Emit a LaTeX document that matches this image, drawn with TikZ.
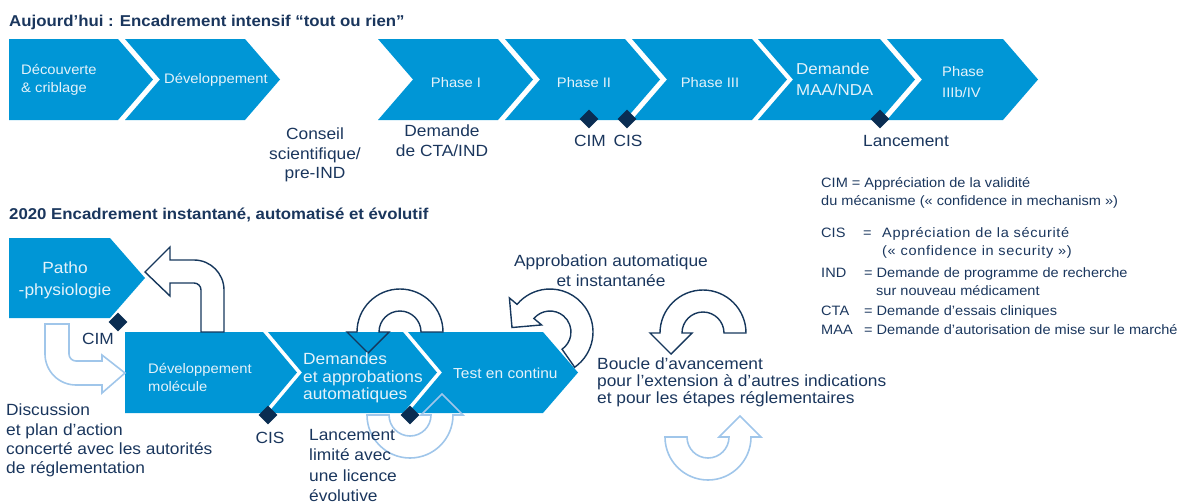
\documentclass[tikz,border=0pt]{standalone}
\usepackage{fontspec}
\setmainfont{Liberation Sans}[FakeStretch=1.07]
\usetikzlibrary{calc,shapes.geometric}
\definecolor{boxblue}{RGB}{0,150,214}
\definecolor{navytext}{RGB}{26,54,93}
\definecolor{dnavy}{RGB}{10,45,82}
\definecolor{anavy}{RGB}{22,55,92}
\definecolor{lblue}{RGB}{160,198,234}
\definecolor{btext}{RGB}{228,242,250}
\newcommand\fs[2]{\fontsize{#1}{#2}\selectfont}
\newcommand\bentarrow[5]{%
  \draw[#1] ($(#2,#3)+(#4:43)$) arc[start angle=#4, end angle=#5, radius=43]
    -- ($(#2,#3)+(#5:53)$) -- ($(#2,#3)+(#5:32)+(#5-90:21)$)
    -- ($(#2,#3)+(#5:11)$) -- ($(#2,#3)+(#5:21)$)
    arc[start angle=#5, end angle=#4, radius=21] -- cycle;}
\begin{document}
\begin{tikzpicture}[x=1pt,y=-1pt,
  boxfill/.style={fill=boxblue},
  boxtext/.style={text=btext, font=\fs{13.8}{18}, inner sep=0},
  lbl/.style={text=navytext, font=\fs{16.2}{19.3}, inner sep=0},
  legend/.style={text=navytext, font=\fs{13.6}{16}, inner sep=0, anchor=base west},
  ttl/.style={text=navytext, font=\bfseries\fs{15.7}{19}, inner sep=0, anchor=base west},
  mile/.style={diamond, fill=dnavy, minimum size=19, inner sep=0},
  navyarrow/.style={draw=anavy, line width=1.4pt, line join=miter},
  lightarrow/.style={draw=lblue, line width=1.6pt, line join=miter}]
\useasboundingbox (0,0) rectangle (1190,501);

% ---------- titles
\node[ttl] (h1) at (9,26) {Aujourd’hui : Encadrement intensif “tout ou rien”};
\node[ttl] (h2) at (9,219) {2020 Encadrement instantané, automatisé et évolutif};

% ---------- top chevrons
\fill[boxfill] (9,39) -- (118,39) -- (153,79.5) -- (118,120) -- (9,120) -- cycle;
\fill[boxfill] (125,39) -- (245,39) -- (280,79.5) -- (245,120) -- (125,120) -- (160,79.5) -- cycle;
\fill[boxfill] (378,39) -- (498,39) -- (533,79.5) -- (498,120) -- (378,120) -- (413,79.5) -- cycle;
\fill[boxfill] (505,39) -- (625,39) -- (660,79.5) -- (625,120) -- (505,120) -- (540,79.5) -- cycle;
\fill[boxfill] (632,39) -- (752,39) -- (787,79.5) -- (752,120) -- (632,120) -- (667,79.5) -- cycle;
\fill[boxfill] (758,39) -- (880,39) -- (915,79.5) -- (880,120) -- (758,120) -- (793,79.5) -- cycle;
\fill[boxfill] (887,39) -- (1003,39) -- (1038,79.5) -- (1003,120) -- (887,120) -- (922,79.5) -- cycle;

\node[boxtext, anchor=north west, align=left] (t1) at (21,64) {Découverte\\\& criblage};
\node[boxtext, anchor=west] (t2) at (164,80) {Développement};
\node[boxtext] (t3) at (456,83) {Phase I};
\node[boxtext] (t4) at (584,83) {Phase II};
\node[boxtext] (t5) at (710,83) {Phase III};
\node[boxtext, anchor=north west, align=left, font=\fs{15.8}{21}] (t6) at (796,63) {Demande\\MAA/NDA};
\node[boxtext, anchor=north west, align=left, font=\fs{13.8}{21.5}] (t7) at (942,66) {Phase\\IIIb/IV};

\node[mile] (d1) at (589,119) {};
\node[mile] (d2) at (627,119) {};
\node[mile] (d3) at (880,119) {};

\node[lbl, anchor=north, align=center] (l1) at (315,128) {Conseil\\scientifique/\\pre-IND};
\node[lbl, anchor=north, align=center, font=\fs{16.2}{20}] (l2) at (442,125) {Demande\\de CTA/IND};
\node[lbl] (l3) at (590,141) {CIM};
\node[lbl] (l4) at (628,141) {CIS};
\node[lbl] (l5) at (906,141.5) {Lancement};

% ---------- legend
\node[legend] (g1) at (821,187) {CIM = Appréciation de la validité};
\node[legend] (g2) at (821,205) {du mécanisme («~confidence in mechanism~»)};
\node[legend] (g3) at (821,237) {CIS};
\node[legend] (g3b) at (863,237) {=};
\node[legend] (g3c) at (882,237) {\addfontfeature{LetterSpace=5}Appréciation de la sécurité};
\node[legend] (g4) at (882,255) {\addfontfeature{LetterSpace=5}(«~confidence in security~»)};
\node[legend] (g5) at (821,277) {IND};
\node[legend] (g5b) at (864,277) {= Demande de programme de recherche};
\node[legend] (g6) at (876,295) {sur nouveau médicament};
\node[legend] (g7) at (821,315) {CTA};
\node[legend] (g7b) at (864,315) {= Demande d’essais cliniques};
\node[legend] (g8) at (821,334) {MAA};
\node[legend] (g8b) at (864,334) {= Demande d’autorisation de mise sur le marché};

% ---------- bottom chevrons
\fill[boxfill] (9,238) -- (110,238) -- (145,278) -- (110,318) -- (9,318) -- cycle;
\fill[boxfill] (125,332) -- (263,332) -- (297,372.5) -- (263,413) -- (125,413) -- cycle;
\fill[boxfill] (268,332) -- (403,332) -- (437,372.5) -- (403,413) -- (268,413) -- (302,372.5) -- cycle;
\fill[boxfill] (408,332) -- (543,332) -- (578,372.5) -- (543,413) -- (408,413) -- (442,372.5) -- cycle;

% ---------- arrows
\draw[navyarrow] (224,332) -- (224,290) arc[start angle=0, end angle=-90, radius=30]
  -- (170,260) -- (170,247) -- (145,272) -- (170,296) -- (170,283) -- (194,283)
  arc[start angle=-90, end angle=0, radius=7] -- (201,332) -- cycle;
\draw[lightarrow] (45,324) -- (45,354) arc[start angle=180, end angle=90, radius=31]
  -- (102,385) -- (102,393) -- (125,373) -- (102,355) -- (102,361) -- (76,361)
  arc[start angle=90, end angle=180, radius=7] -- (69,324) -- cycle;
\bentarrow{navyarrow}{400}{332}{0}{-180}
\bentarrow{lightarrow}{410}{415}{-180}{-360}
\bentarrow{navyarrow}{550}{332}{55}{-140}
\bentarrow{navyarrow}{703}{333}{0}{-180}
\bentarrow{lightarrow}{708}{437}{-180}{-360}

\node[mile] (d4) at (118,322) {};
\node[mile] (d5) at (268,415) {};
\node[mile] (d6) at (410,415) {};

% ---------- bottom texts
\node[boxtext, anchor=north, align=center, font=\fs{16.2}{22}] (b1) at (65,262) {Patho\\-physiologie};
\node[boxtext, anchor=north west, align=left] (b2) at (148,363) {Développement\\molécule};
\node[boxtext, anchor=north west, align=left, font=\fs{16.2}{17.5}] (b3) at (303,353) {Demandes\\et approbations\\automatiques};
\node[boxtext, anchor=west, font=\fs{14.5}{18}] (b4) at (453,373) {Test en continu};

\node[lbl] (c1) at (98,339) {CIM};
\node[lbl] (c2) at (270,438) {CIS};
\node[lbl, anchor=north west, align=left, font=\fs{16.2}{20.5}] (c3) at (309,429) {Lancement\\limité avec\\une licence\\évolutive};
\node[lbl, anchor=north west, align=left] (c4) at (6,404) {Discussion\\et plan d’action\\concerté avec les autorités\\de réglementation};
\node[lbl, anchor=north, align=center, font=\fs{16.2}{19.5}] (c5) at (611,255) {Approbation automatique\\et instantanée};
\node[lbl, anchor=north west, align=left, font=\fs{16.2}{17}] (c6) at (597,358) {Boucle d’avancement\\pour l’extension à d’autres indications\\et pour les étapes réglementaires};
\end{tikzpicture}
\end{document}
